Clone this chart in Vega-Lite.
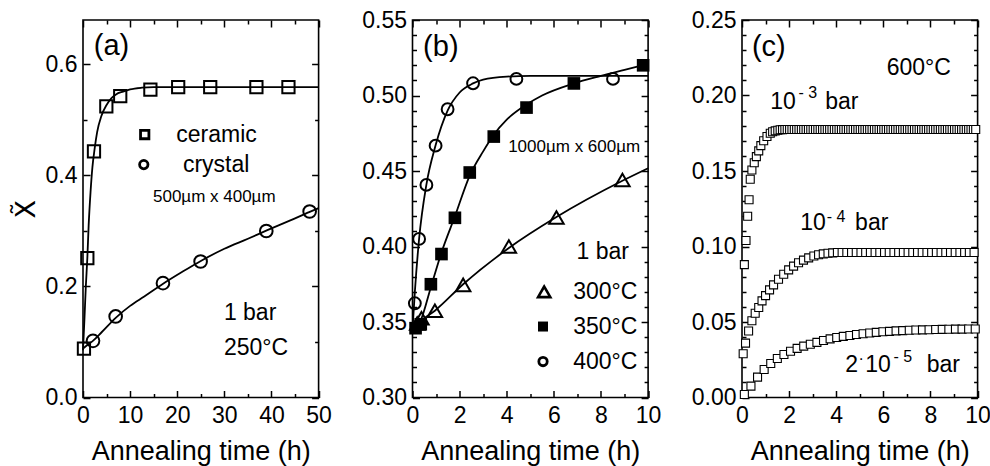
{
  "$schema": "https://vega.github.io/schema/vega-lite/v6.json",
  "padding": {"left": 11, "top": 8, "right": 0, "bottom": 0},
  "bounds": "flush",
  "spacing": 93.5,
  "config": {
    "font": "Liberation Sans",
    "view": {"stroke": "black", "strokeWidth": 1.6},
    "axis": {"domain": false, "grid": false, "labelFontSize": 23, "labelColor": "black", "labelFont": "Liberation Sans", "titleFont": "Liberation Sans", "titleFontSize": 27, "titleFontWeight": "normal", "titleColor": "black", "tickColor": "black", "tickWidth": 1.5, "labelOverlap": false, "labelFlush": false, "labelPadding": 6},
    "text": {"font": "Liberation Sans", "color": "black"}
  },
  "datasets": {
    "aLines": [
      {"t":0,"y":0.085,"s":"ceramic"},{"t":0.3,"y":0.14,"s":"ceramic"},{"t":0.6,"y":0.2,"s":"ceramic"},{"t":0.92,"y":0.251,"s":"ceramic"},{"t":1.2,"y":0.31,"s":"ceramic"},{"t":1.6,"y":0.37,"s":"ceramic"},{"t":2.0,"y":0.415,"s":"ceramic"},{"t":2.5,"y":0.45,"s":"ceramic"},{"t":3.0,"y":0.478,"s":"ceramic"},{"t":3.9,"y":0.507,"s":"ceramic"},{"t":5.0,"y":0.527,"s":"ceramic"},{"t":6.0,"y":0.539,"s":"ceramic"},{"t":7.0,"y":0.546,"s":"ceramic"},{"t":8.5,"y":0.551,"s":"ceramic"},{"t":10,"y":0.555,"s":"ceramic"},{"t":12.5,"y":0.558,"s":"ceramic"},{"t":15,"y":0.559,"s":"ceramic"},{"t":25,"y":0.559,"s":"ceramic"},{"t":50,"y":0.559,"s":"ceramic"},
      {"t":0,"y":0.088,"s":"crystal"},{"t":1,"y":0.095,"s":"crystal"},{"t":2.1,"y":0.102,"s":"crystal"},{"t":4,"y":0.118,"s":"crystal"},{"t":7,"y":0.144,"s":"crystal"},{"t":10,"y":0.165,"s":"crystal"},{"t":13,"y":0.182,"s":"crystal"},{"t":17,"y":0.205,"s":"crystal"},{"t":21,"y":0.226,"s":"crystal"},{"t":25,"y":0.246,"s":"crystal"},{"t":30,"y":0.268,"s":"crystal"},{"t":35,"y":0.286,"s":"crystal"},{"t":39,"y":0.301,"s":"crystal"},{"t":44,"y":0.319,"s":"crystal"},{"t":48,"y":0.334,"s":"crystal"},{"t":50,"y":0.341,"s":"crystal"}
    ],
    "aCeramic": [
      {"t":0.2,"y":0.088},{"t":0.92,"y":0.251},{"t":2.33,"y":0.4435},{"t":4.95,"y":0.5246},{"t":7.9,"y":0.5427},{"t":14.3,"y":0.5547},{"t":20.2,"y":0.559},{"t":27.0,"y":0.559},{"t":36.8,"y":0.559},{"t":43.6,"y":0.559}
    ],
    "aCrystal": [
      {"t":2.12,"y":0.102},{"t":6.93,"y":0.146},{"t":16.97,"y":0.206},{"t":24.96,"y":0.245},{"t":38.9,"y":0.300},{"t":48.1,"y":0.335}
    ],
    "aLegSq": [{"t":13.1,"y":0.4736}],
    "aLegCir": [{"t":12.9,"y":0.4195}],
    "aBig": [{"x":2.3,"y":0.633,"label":"(a)"}],
    "aMid": [{"x":19.8,"y":0.4736,"label":"ceramic"},{"x":21.2,"y":0.4195,"label":"crystal"},{"x":29.9,"y":0.152,"label":"1 bar"},{"x":29.9,"y":0.089,"label":"250°C"}],
    "aSmall": [{"x":14.85,"y":0.362,"label":"500µm x 400µm"}],
    "bLines": [
      {"t":0,"y":0.345,"s":"400"},{"t":0.1,"y":0.37,"s":"400"},{"t":0.28,"y":0.405,"s":"400"},{"t":0.59,"y":0.441,"s":"400"},{"t":0.98,"y":0.467,"s":"400"},{"t":1.49,"y":0.49,"s":"400"},{"t":2.0,"y":0.502,"s":"400"},{"t":2.57,"y":0.508,"s":"400"},{"t":3.0,"y":0.5105,"s":"400"},{"t":4.0,"y":0.5125,"s":"400"},{"t":5,"y":0.513,"s":"400"},{"t":10,"y":0.513,"s":"400"},
      {"t":0,"y":0.343,"s":"350"},{"t":0.35,"y":0.351,"s":"350"},{"t":0.78,"y":0.373,"s":"350"},{"t":1.23,"y":0.396,"s":"350"},{"t":1.8,"y":0.42,"s":"350"},{"t":2.43,"y":0.447,"s":"350"},{"t":3.0,"y":0.463,"s":"350"},{"t":3.45,"y":0.474,"s":"350"},{"t":4.0,"y":0.484,"s":"350"},{"t":4.84,"y":0.494,"s":"350"},{"t":5.5,"y":0.5,"s":"350"},{"t":6.85,"y":0.508,"s":"350"},{"t":8,"y":0.513,"s":"350"},{"t":9,"y":0.517,"s":"350"},{"t":10,"y":0.521,"s":"350"},
      {"t":0,"y":0.345,"s":"300"},{"t":0.38,"y":0.351,"s":"300"},{"t":0.95,"y":0.3575,"s":"300"},{"t":2.15,"y":0.375,"s":"300"},{"t":4.09,"y":0.399,"s":"300"},{"t":6.11,"y":0.4195,"s":"300"},{"t":8.91,"y":0.4435,"s":"300"},{"t":10,"y":0.4518,"s":"300"}
    ],
    "bTri": [{"t":0.2,"y":0.349},{"t":0.38,"y":0.3525},{"t":0.95,"y":0.3574},{"t":2.15,"y":0.3746},{"t":4.09,"y":0.40},{"t":6.11,"y":0.4192},{"t":8.91,"y":0.4441}],
    "bSq": [{"t":0.13,"y":0.3459},{"t":0.35,"y":0.3485},{"t":0.78,"y":0.375},{"t":1.23,"y":0.395},{"t":1.8,"y":0.419},{"t":2.43,"y":0.449},{"t":3.45,"y":0.4728},{"t":4.84,"y":0.492},{"t":6.85,"y":0.508},{"t":9.79,"y":0.52}],
    "bCir": [{"t":0.1,"y":0.3624},{"t":0.28,"y":0.405},{"t":0.59,"y":0.4408},{"t":0.98,"y":0.4668},{"t":1.49,"y":0.4909},{"t":2.57,"y":0.5081},{"t":4.41,"y":0.511},{"t":8.51,"y":0.511}],
    "bLegTri": [{"t":5.59,"y":0.370}],
    "bLegSq": [{"t":5.54,"y":0.347}],
    "bLegCir": [{"t":5.54,"y":0.3238}],
    "bBig": [{"x":0.45,"y":0.532,"label":"(b)"}],
    "bMid": [{"x":6.96,"y":0.3966,"label":"1 bar"},{"x":6.82,"y":0.370,"label":"300°C"},{"x":6.82,"y":0.347,"label":"350°C"},{"x":6.82,"y":0.3238,"label":"400°C"}],
    "bSmall": [{"x":4.06,"y":0.4657,"label":"1000µm x 600µm"}],
    "cE3": [
      {"t":0.10,"y":0.088},{"t":0.17,"y":0.104},{"t":0.24,"y":0.120},{"t":0.30,"y":0.131},{"t":0.35,"y":0.1445},{"t":0.42,"y":0.1507},{"t":0.52,"y":0.1555},{"t":0.61,"y":0.1595},{"t":0.71,"y":0.1633},{"t":0.80,"y":0.1668},{"t":0.92,"y":0.170},{"t":1.06,"y":0.1728},{"t":1.20,"y":0.175},{"t":1.30,"y":0.176},{"t":1.41,"y":0.1766},{"t":1.52,"y":0.177},{"t":1.62,"y":0.1773},{"t":1.72,"y":0.1774},
      {"t":1.82,"y":0.1775},{"t":1.92,"y":0.1775},{"t":2.02,"y":0.1775},{"t":2.12,"y":0.1775},{"t":2.22,"y":0.1775},{"t":2.32,"y":0.1775},{"t":2.42,"y":0.1775},{"t":2.52,"y":0.1775},{"t":2.62,"y":0.1775},{"t":2.72,"y":0.1775},{"t":2.82,"y":0.1775},{"t":2.92,"y":0.1775},
      {"t":3.02,"y":0.1775},{"t":3.12,"y":0.1775},{"t":3.22,"y":0.1775},{"t":3.32,"y":0.1775},{"t":3.42,"y":0.1775},{"t":3.52,"y":0.1775},{"t":3.62,"y":0.1775},{"t":3.72,"y":0.1775},{"t":3.82,"y":0.1775},{"t":3.92,"y":0.1775},
      {"t":4.02,"y":0.1775},{"t":4.12,"y":0.1775},{"t":4.22,"y":0.1775},{"t":4.32,"y":0.1775},{"t":4.42,"y":0.1775},{"t":4.52,"y":0.1775},{"t":4.62,"y":0.1775},{"t":4.72,"y":0.1775},{"t":4.82,"y":0.1775},{"t":4.92,"y":0.1775},
      {"t":5.02,"y":0.1775},{"t":5.12,"y":0.1775},{"t":5.22,"y":0.1775},{"t":5.32,"y":0.1775},{"t":5.42,"y":0.1775},{"t":5.52,"y":0.1775},{"t":5.62,"y":0.1775},{"t":5.72,"y":0.1775},{"t":5.82,"y":0.1775},{"t":5.92,"y":0.1775},
      {"t":6.02,"y":0.1775},{"t":6.12,"y":0.1775},{"t":6.22,"y":0.1775},{"t":6.32,"y":0.1775},{"t":6.42,"y":0.1775},{"t":6.52,"y":0.1775},{"t":6.62,"y":0.1775},{"t":6.72,"y":0.1775},{"t":6.82,"y":0.1775},{"t":6.92,"y":0.1775},
      {"t":7.02,"y":0.1775},{"t":7.12,"y":0.1775},{"t":7.22,"y":0.1775},{"t":7.32,"y":0.1775},{"t":7.42,"y":0.1775},{"t":7.52,"y":0.1775},{"t":7.62,"y":0.1775},{"t":7.72,"y":0.1775},{"t":7.82,"y":0.1775},{"t":7.92,"y":0.1775},
      {"t":8.02,"y":0.1775},{"t":8.12,"y":0.1775},{"t":8.22,"y":0.1775},{"t":8.32,"y":0.1775},{"t":8.42,"y":0.1775},{"t":8.52,"y":0.1775},{"t":8.62,"y":0.1775},{"t":8.72,"y":0.1775},{"t":8.82,"y":0.1775},{"t":8.92,"y":0.1775},
      {"t":9.02,"y":0.1775},{"t":9.12,"y":0.1775},{"t":9.22,"y":0.1775},{"t":9.32,"y":0.1775},{"t":9.42,"y":0.1775},{"t":9.52,"y":0.1775},{"t":9.62,"y":0.1775},{"t":9.72,"y":0.1775},{"t":9.82,"y":0.1775},{"t":9.92,"y":0.1775}
    ],
    "cE4": [
      {"t":0.05,"y":0.029},{"t":0.15,"y":0.036},{"t":0.28,"y":0.044},{"t":0.42,"y":0.0508},{"t":0.56,"y":0.0558},{"t":0.71,"y":0.0596},{"t":0.85,"y":0.064},{"t":1.0,"y":0.0675},{"t":1.17,"y":0.0713},{"t":1.34,"y":0.0746},{"t":1.55,"y":0.0783},{"t":1.77,"y":0.0816},{"t":1.98,"y":0.0845},{"t":2.19,"y":0.087},{"t":2.4,"y":0.0892},{"t":2.61,"y":0.091},{"t":2.83,"y":0.0925},{"t":3.05,"y":0.0937},{"t":3.25,"y":0.0945},{"t":3.45,"y":0.0951},{"t":3.65,"y":0.0955},{"t":3.85,"y":0.0958},{"t":4.05,"y":0.096},
      {"t":4.25,"y":0.096},{"t":4.45,"y":0.096},{"t":4.65,"y":0.096},{"t":4.85,"y":0.096},{"t":5.05,"y":0.096},{"t":5.25,"y":0.096},{"t":5.45,"y":0.096},{"t":5.65,"y":0.096},{"t":5.85,"y":0.096},{"t":6.05,"y":0.096},{"t":6.25,"y":0.096},{"t":6.45,"y":0.096},{"t":6.65,"y":0.096},{"t":6.85,"y":0.096},{"t":7.05,"y":0.096},{"t":7.25,"y":0.096},{"t":7.45,"y":0.096},{"t":7.65,"y":0.096},{"t":7.85,"y":0.096},{"t":8.05,"y":0.096},{"t":8.25,"y":0.096},{"t":8.45,"y":0.096},{"t":8.65,"y":0.096},{"t":8.85,"y":0.096},{"t":9.05,"y":0.096},{"t":9.25,"y":0.096},{"t":9.45,"y":0.096},{"t":9.65,"y":0.096},{"t":9.85,"y":0.096}
    ],
    "cE5": [
      {"t":0.1,"y":0.002},{"t":0.38,"y":0.0075},{"t":0.66,"y":0.0135},{"t":0.94,"y":0.0185},{"t":1.22,"y":0.0225},{"t":1.5,"y":0.0258},{"t":1.78,"y":0.0285},{"t":2.06,"y":0.0306},{"t":2.34,"y":0.0325},{"t":2.62,"y":0.034},{"t":2.9,"y":0.0353},{"t":3.18,"y":0.0365},{"t":3.46,"y":0.0377},{"t":3.74,"y":0.0388},{"t":4.02,"y":0.0397},{"t":4.3,"y":0.0405},{"t":4.58,"y":0.0411},{"t":4.86,"y":0.0417},{"t":5.14,"y":0.0422},{"t":5.42,"y":0.0427},{"t":5.7,"y":0.0431},{"t":5.98,"y":0.0435},{"t":6.26,"y":0.0438},{"t":6.54,"y":0.0441},{"t":6.82,"y":0.0443},{"t":7.1,"y":0.0445},{"t":7.38,"y":0.0447},{"t":7.66,"y":0.0448},{"t":7.94,"y":0.0449},{"t":8.22,"y":0.045},{"t":8.5,"y":0.0451},{"t":8.78,"y":0.0452},{"t":9.06,"y":0.0453},{"t":9.34,"y":0.0453},{"t":9.62,"y":0.0454},{"t":9.9,"y":0.0454}
    ],
    "cBig": [{"x":0.42,"y":0.2323,"label":"(c)"}],
    "cMid": [{"x":6.14,"y":0.218,"label":"600°C"},{"x":1.2,"y":0.196,"label":"10"},{"x":3.53,"y":0.196,"label":"bar"},{"x":2.47,"y":0.1154,"label":"10"},{"x":4.8,"y":0.1154,"label":"bar"},{"x":4.38,"y":0.0216,"label":"2"},{"x":5.23,"y":0.0216,"label":"10"},{"x":7.84,"y":0.0216,"label":"bar"}],
    "cSup": [{"x":2.4,"y":0.2015,"label":"- 3"},{"x":3.6,"y":0.1198,"label":"- 4"},{"x":4.94,"y":0.0252,"label":"·"},{"x":6.43,"y":0.0265,"label":"- 5"}]
  },
  "hconcat": [
    {
      "width": 235.6, "height": 377.5,
      "resolve": {"axis": {"x": "independent", "y": "independent"}},
      "layer": [
        {"data": {"name": "aLines"}, "mark": {"type": "line", "interpolate": "monotone", "color": "black", "strokeWidth": 1.8},
         "encoding": {
           "x": {"field": "t", "type": "quantitative", "scale": {"domain": [0, 50], "nice": false},
                 "axis": {"orient": "bottom", "values": [0,10,20,30,40,50], "format": "d", "offset": -7, "tickSize": 7, "labelPadding": 7, "title": "Annealing time (h)", "titlePadding": 11}},
           "y": {"field": "y", "type": "quantitative", "scale": {"domain": [0, 0.68], "nice": false},
                 "axis": {"orient": "left", "values": [0,0.2,0.4,0.6], "format": ".1f", "offset": -7, "tickSize": 7, "title": "X̃", "titleFont": "DejaVu Sans", "titlePadding": 5}},
           "detail": {"field": "s"}
         }},
        {"data": {"name": "aCeramic"}, "mark": {"type": "point", "shape": "square", "filled": false, "color": "black", "opacity": 1, "size": 150, "strokeWidth": 2},
         "encoding": {
           "x": {"field": "t", "type": "quantitative", "scale": {"domain": [0, 50], "nice": false},
                 "axis": {"orient": "bottom", "values": [5,15,25,35,45], "labels": false, "title": null, "offset": -4, "tickSize": 4}},
           "y": {"field": "y", "type": "quantitative", "scale": {"domain": [0, 0.68], "nice": false},
                 "axis": {"orient": "left", "values": [0.1,0.3,0.5], "labels": false, "title": null, "offset": -4, "tickSize": 4}}
         }},
        {"data": {"name": "aCrystal"}, "mark": {"type": "point", "shape": "circle", "filled": false, "color": "black", "opacity": 1, "size": 160, "strokeWidth": 2},
         "encoding": {
           "x": {"field": "t", "type": "quantitative", "scale": {"domain": [0, 50], "nice": false},
                 "axis": {"orient": "top", "values": [0,10,20,30,40,50], "labels": false, "title": null, "offset": -7, "tickSize": 7}},
           "y": {"field": "y", "type": "quantitative", "scale": {"domain": [0, 0.68], "nice": false},
                 "axis": {"orient": "right", "values": [0,0.2,0.4,0.6], "labels": false, "title": null, "offset": -7, "tickSize": 7}}
         }},
        {"data": {"name": "aLegSq"}, "mark": {"type": "point", "shape": "square", "filled": false, "color": "black", "opacity": 1, "size": 70, "strokeWidth": 2.8},
         "encoding": {
           "x": {"field": "t", "type": "quantitative", "scale": {"domain": [0, 50], "nice": false},
                 "axis": {"orient": "top", "values": [5,15,25,35,45], "labels": false, "title": null, "offset": -4, "tickSize": 4}},
           "y": {"field": "y", "type": "quantitative", "scale": {"domain": [0, 0.68], "nice": false},
                 "axis": {"orient": "right", "values": [0.1,0.3,0.5], "labels": false, "title": null, "offset": -4, "tickSize": 4}}
         }},
        {"data": {"name": "aLegCir"}, "mark": {"type": "point", "shape": "circle", "filled": false, "color": "black", "opacity": 1, "size": 70, "strokeWidth": 2.8},
         "encoding": {"x": {"field": "t", "type": "quantitative", "axis": null}, "y": {"field": "y", "type": "quantitative", "axis": null}}},
        {"data": {"name": "aBig"}, "mark": {"type": "text", "align": "left", "baseline": "middle", "fontSize": 29},
         "encoding": {"x": {"field": "x", "type": "quantitative", "axis": null}, "y": {"field": "y", "type": "quantitative", "axis": null}, "text": {"field": "label"}}},
        {"data": {"name": "aMid"}, "mark": {"type": "text", "align": "left", "baseline": "middle", "fontSize": 23},
         "encoding": {"x": {"field": "x", "type": "quantitative", "axis": null}, "y": {"field": "y", "type": "quantitative", "axis": null}, "text": {"field": "label"}}},
        {"data": {"name": "aSmall"}, "mark": {"type": "text", "align": "left", "baseline": "middle", "fontSize": 17},
         "encoding": {"x": {"field": "x", "type": "quantitative", "axis": null}, "y": {"field": "y", "type": "quantitative", "axis": null}, "text": {"field": "label"}}}
      ]
    },
    {
      "width": 235.6, "height": 377.5,
      "resolve": {"axis": {"x": "independent", "y": "independent"}},
      "layer": [
        {"data": {"name": "bLines"}, "mark": {"type": "line", "interpolate": "monotone", "color": "black", "strokeWidth": 1.8},
         "encoding": {
           "x": {"field": "t", "type": "quantitative", "scale": {"domain": [0, 10], "nice": false},
                 "axis": {"orient": "bottom", "values": [0,2,4,6,8,10], "format": "d", "offset": -7, "tickSize": 7, "labelPadding": 7, "title": "Annealing time (h)", "titlePadding": 11}},
           "y": {"field": "y", "type": "quantitative", "scale": {"domain": [0.3, 0.55], "nice": false, "zero": false},
                 "axis": {"orient": "left", "values": [0.30,0.35,0.40,0.45,0.50,0.55], "format": ".2f", "offset": -7, "tickSize": 7, "title": null}},
           "detail": {"field": "s"}
         }},
        {"data": {"name": "bTri"}, "mark": {"type": "point", "shape": "triangle-up", "filled": false, "color": "black", "opacity": 1, "size": 210, "strokeWidth": 2},
         "encoding": {
           "x": {"field": "t", "type": "quantitative", "scale": {"domain": [0, 10], "nice": false},
                 "axis": {"orient": "bottom", "values": [1,3,5,7,9], "labels": false, "title": null, "offset": -4, "tickSize": 4}},
           "y": {"field": "y", "type": "quantitative", "scale": {"domain": [0.3, 0.55], "nice": false, "zero": false},
                 "axis": {"orient": "left", "values": [0.31,0.32,0.33,0.34,0.36,0.37,0.38,0.39,0.41,0.42,0.43,0.44,0.46,0.47,0.48,0.49,0.51,0.52,0.53,0.54], "labels": false, "title": null, "offset": -4, "tickSize": 4}}
         }},
        {"data": {"name": "bSq"}, "mark": {"type": "point", "shape": "square", "filled": true, "color": "black", "opacity": 1, "size": 160},
         "encoding": {
           "x": {"field": "t", "type": "quantitative", "scale": {"domain": [0, 10], "nice": false},
                 "axis": {"orient": "top", "values": [0,2,4,6,8,10], "labels": false, "title": null, "offset": -7, "tickSize": 7}},
           "y": {"field": "y", "type": "quantitative", "scale": {"domain": [0.3, 0.55], "nice": false, "zero": false},
                 "axis": {"orient": "right", "values": [0.30,0.35,0.40,0.45,0.50,0.55], "labels": false, "title": null, "offset": -7, "tickSize": 7}}
         }},
        {"data": {"name": "bCir"}, "mark": {"type": "point", "shape": "circle", "filled": false, "color": "black", "opacity": 1, "size": 140, "strokeWidth": 2},
         "encoding": {
           "x": {"field": "t", "type": "quantitative", "scale": {"domain": [0, 10], "nice": false},
                 "axis": {"orient": "top", "values": [1,3,5,7,9], "labels": false, "title": null, "offset": -4, "tickSize": 4}},
           "y": {"field": "y", "type": "quantitative", "scale": {"domain": [0.3, 0.55], "nice": false, "zero": false},
                 "axis": {"orient": "right", "values": [0.31,0.32,0.33,0.34,0.36,0.37,0.38,0.39,0.41,0.42,0.43,0.44,0.46,0.47,0.48,0.49,0.51,0.52,0.53,0.54], "labels": false, "title": null, "offset": -4, "tickSize": 4}}
         }},
        {"data": {"name": "bLegTri"}, "mark": {"type": "point", "shape": "triangle-up", "filled": false, "color": "black", "opacity": 1, "size": 150, "strokeWidth": 2.6},
         "encoding": {"x": {"field": "t", "type": "quantitative", "axis": null}, "y": {"field": "y", "type": "quantitative", "axis": null}}},
        {"data": {"name": "bLegSq"}, "mark": {"type": "point", "shape": "square", "filled": true, "color": "black", "opacity": 1, "size": 100},
         "encoding": {"x": {"field": "t", "type": "quantitative", "axis": null}, "y": {"field": "y", "type": "quantitative", "axis": null}}},
        {"data": {"name": "bLegCir"}, "mark": {"type": "point", "shape": "circle", "filled": false, "color": "black", "opacity": 1, "size": 70, "strokeWidth": 2.8},
         "encoding": {"x": {"field": "t", "type": "quantitative", "axis": null}, "y": {"field": "y", "type": "quantitative", "axis": null}}},
        {"data": {"name": "bBig"}, "mark": {"type": "text", "align": "left", "baseline": "middle", "fontSize": 29},
         "encoding": {"x": {"field": "x", "type": "quantitative", "axis": null}, "y": {"field": "y", "type": "quantitative", "axis": null}, "text": {"field": "label"}}},
        {"data": {"name": "bMid"}, "mark": {"type": "text", "align": "left", "baseline": "middle", "fontSize": 23},
         "encoding": {"x": {"field": "x", "type": "quantitative", "axis": null}, "y": {"field": "y", "type": "quantitative", "axis": null}, "text": {"field": "label"}}},
        {"data": {"name": "bSmall"}, "mark": {"type": "text", "align": "left", "baseline": "middle", "fontSize": 17},
         "encoding": {"x": {"field": "x", "type": "quantitative", "axis": null}, "y": {"field": "y", "type": "quantitative", "axis": null}, "text": {"field": "label"}}}
      ]
    },
    {
      "width": 235.6, "height": 377.5,
      "resolve": {"axis": {"x": "independent", "y": "independent"}},
      "layer": [
        {"data": {"name": "cE3"}, "mark": {"type": "point", "shape": "square", "filled": true, "fill": "white", "stroke": "black", "opacity": 1, "size": 64, "strokeWidth": 1.1},
         "encoding": {
           "x": {"field": "t", "type": "quantitative", "scale": {"domain": [0, 10], "nice": false},
                 "axis": {"orient": "bottom", "values": [0,2,4,6,8,10], "format": "d", "offset": -7, "tickSize": 7, "labelPadding": 7, "title": "Annealing time (h)", "titlePadding": 11}},
           "y": {"field": "y", "type": "quantitative", "scale": {"domain": [0, 0.25], "nice": false},
                 "axis": {"orient": "left", "values": [0,0.05,0.10,0.15,0.20,0.25], "format": ".2f", "offset": -7, "tickSize": 7, "title": null}}
         }},
        {"data": {"name": "cE4"}, "mark": {"type": "point", "shape": "square", "filled": true, "fill": "white", "stroke": "black", "opacity": 1, "size": 64, "strokeWidth": 1.1},
         "encoding": {
           "x": {"field": "t", "type": "quantitative", "scale": {"domain": [0, 10], "nice": false},
                 "axis": {"orient": "bottom", "values": [1,3,5,7,9], "labels": false, "title": null, "offset": -4, "tickSize": 4}},
           "y": {"field": "y", "type": "quantitative", "scale": {"domain": [0, 0.25], "nice": false},
                 "axis": {"orient": "left", "values": [0.01,0.02,0.03,0.04,0.06,0.07,0.08,0.09,0.11,0.12,0.13,0.14,0.16,0.17,0.18,0.19,0.21,0.22,0.23,0.24], "labels": false, "title": null, "offset": -4, "tickSize": 4}}
         }},
        {"data": {"name": "cE5"}, "mark": {"type": "point", "shape": "square", "filled": true, "fill": "white", "stroke": "black", "opacity": 1, "size": 64, "strokeWidth": 1.1},
         "encoding": {
           "x": {"field": "t", "type": "quantitative", "scale": {"domain": [0, 10], "nice": false},
                 "axis": {"orient": "top", "values": [0,2,4,6,8,10], "labels": false, "title": null, "offset": -7, "tickSize": 7}},
           "y": {"field": "y", "type": "quantitative", "scale": {"domain": [0, 0.25], "nice": false},
                 "axis": {"orient": "right", "values": [0,0.05,0.10,0.15,0.20,0.25], "labels": false, "title": null, "offset": -7, "tickSize": 7}}
         }},
        {"data": {"name": "cBig"}, "mark": {"type": "text", "align": "left", "baseline": "middle", "fontSize": 29},
         "encoding": {
           "x": {"field": "x", "type": "quantitative", "scale": {"domain": [0, 10], "nice": false},
                 "axis": {"orient": "top", "values": [1,3,5,7,9], "labels": false, "title": null, "offset": -4, "tickSize": 4}},
           "y": {"field": "y", "type": "quantitative", "scale": {"domain": [0, 0.25], "nice": false},
                 "axis": {"orient": "right", "values": [0.01,0.02,0.03,0.04,0.06,0.07,0.08,0.09,0.11,0.12,0.13,0.14,0.16,0.17,0.18,0.19,0.21,0.22,0.23,0.24], "labels": false, "title": null, "offset": -4, "tickSize": 4}},
           "text": {"field": "label"}}},
        {"data": {"name": "cMid"}, "mark": {"type": "text", "align": "left", "baseline": "middle", "fontSize": 23},
         "encoding": {"x": {"field": "x", "type": "quantitative", "axis": null}, "y": {"field": "y", "type": "quantitative", "axis": null}, "text": {"field": "label"}}},
        {"data": {"name": "cSup"}, "mark": {"type": "text", "align": "left", "baseline": "middle", "fontSize": 16},
         "encoding": {"x": {"field": "x", "type": "quantitative", "axis": null}, "y": {"field": "y", "type": "quantitative", "axis": null}, "text": {"field": "label"}}}
      ]
    }
  ]
}
